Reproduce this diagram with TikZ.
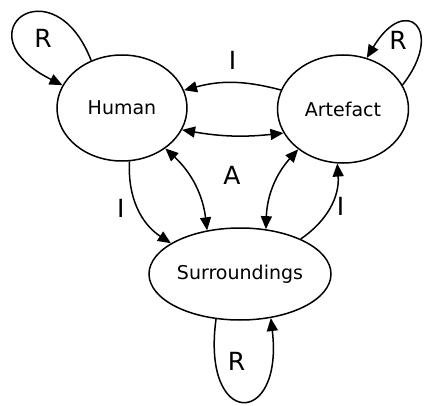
\documentclass[tikz,border=0pt]{standalone}
\usepackage{fontspec}
\setmainfont{DejaVu Sans}
\usetikzlibrary{arrows.meta,shapes.geometric,positioning}

\begin{document}
\begin{tikzpicture}[x=1pt, y=1pt,
    actor/.style={draw, ellipse, line width=1.5pt, inner sep=0pt,
                  font=\fontsize{19}{22}\selectfont},
    lbl/.style={font=\fontsize{25}{28}\selectfont, inner sep=2pt},
    arr/.style={-{Triangle[length=13pt, width=11pt]}, line width=1.5pt},
    biarr/.style={{Triangle[length=13pt, width=11pt]}-{Triangle[length=13pt, width=11pt]}, line width=1.5pt}
]
\useasboundingbox (0,0) rectangle (428,405);
\node[actor, minimum width=130, minimum height=106] (Human) at (122,297) {Human};
\node[actor, minimum width=131, minimum height=108] (Artefact) at (343,296) {Artefact};
\node[actor, minimum width=182, minimum height=92] (Surr) at (240,131) {Surroundings};

% self loops
\draw[arr] (Human.123) .. controls +(-38,98) and +(-104,52) .. node[lbl, pos=0.5, below right=10pt and 8pt] {R} (Human.159);
\draw[arr] (Artefact.22) .. controls +(43,55) and +(39,65) .. node[lbl, pos=0.5, below left=2pt and 6pt] {R} (Artefact.65);
\draw[arr] (Surr.242) .. controls +(-15,-110) and +(13,-110) .. node[lbl, pos=0.5, above=28pt, xshift=-6pt] {R} (Surr.-55);

% links between the three
\draw[arr] (Artefact.163) to[bend right=15] node[lbl, above=10pt] {I} (Human.16);
\draw[biarr] (Human.-20) to[bend right=8] (Artefact.202);
\draw[arr] (Human.-82) to[bend right=30] node[lbl, left=11pt] {I} (Surr.156);
\draw[biarr] (Human.-43) to[bend left=20] (Surr.127);
\draw[biarr] (Artefact.222) to[bend right=20] (Surr.60);
\draw[arr] (Surr.30) to[bend right=30] node[lbl, right=4pt] {I} (Artefact.264);
\node[lbl] (lblA) at (232,230) {A};
\end{tikzpicture}
\end{document}
